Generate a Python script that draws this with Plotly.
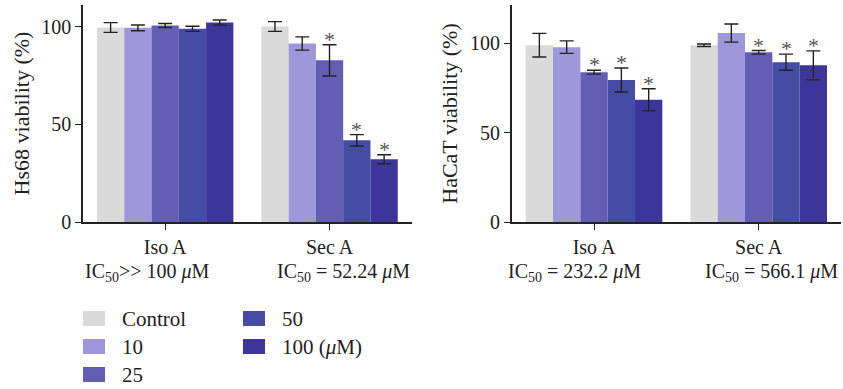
import plotly.graph_objects as go

categories = ["Iso A", "Sec A"]
series_names = ["Control", "10", "25", "50", "100 (<i>μ</i>M)"]
colors = ["#dadada", "#9e97d9", "#645db4", "#444ca3", "#3c369b"]

# Hs68 viability (%)
hs68_values = [[99.5, 100.0], [99.3, 91.3], [100.5, 82.7], [98.8, 41.8], [102.0, 32.1]]
hs68_errors = [[2.5, 2.5], [1.5, 3.4], [1.0, 8.0], [1.3, 2.9], [1.3, 2.3]]
hs68_stars = [[False, False], [False, False], [False, True], [False, True], [False, True]]

# HaCaT viability (%)
hacat_values = [[99.0, 99.0], [97.9, 105.8], [83.9, 95.0], [79.5, 89.5], [68.4, 87.7]]
hacat_errors = [[6.6, 0.7], [3.5, 5.1], [1.1, 1.0], [6.7, 4.5], [6.2, 8.1]]
hacat_stars = [[False, False], [False, False], [True, True], [True, True], [True, True]]

hs68_ic50 = ["IC<sub>50</sub>>> 100 <i>μ</i>M", "IC<sub>50</sub> = 52.24 <i>μ</i>M"]
hacat_ic50 = ["IC<sub>50</sub> = 232.2 <i>μ</i>M", "IC<sub>50</sub> = 566.1 <i>μ</i>M"]

y_ticks = [0, 50, 100]

FONT = "Liberation Serif, Times New Roman, serif"
TXT = "#222222"
W, H = 843, 389
BARGAP = 0.17
n = len(series_names)

fig = go.Figure()
annotations = []

panels = [
    ("x", "y", hs68_values, hs68_errors, hs68_stars, hs68_ic50, [147, 343]),
    ("x2", "y2", hacat_values, hacat_errors, hacat_stars, hacat_ic50, [574, 771.5]),
]

bw = (1 - BARGAP) / n
for xa, ya, vals, errs, stars, ic50, ic_px in panels:
    for i in range(n):
        fig.add_trace(go.Bar(
            x=categories, y=vals[i], name=series_names[i], xaxis=xa, yaxis=ya,
            marker=dict(color=colors[i], line=dict(width=0)),
            error_y=dict(type="data", array=errs[i], color="#222222", thickness=1.4, width=7),
            showlegend=False,
        ))
        for j in range(len(categories)):
            if stars[i][j]:
                annotations.append(dict(
                    x=j - (1 - BARGAP) / 2 + bw * (i + 0.5), y=vals[i][j] + errs[i][j],
                    xref=xa, yref=ya, text="*", showarrow=False, yanchor="bottom",
                    yshift=-9, font=dict(family=FONT, size=22, color="#555555")))
    for j, t in enumerate(ic50):
        annotations.append(dict(
            x=ic_px[j] / W, y=(H - 272) / H, xref="paper", yref="paper", text=t, showarrow=False,
            yanchor="middle", xanchor="center", font=dict(family=FONT, size=20, color=TXT)))

# Manual legend (column-major)
leg_pos = [(83, 311), (83, 339), (83, 367), (243, 311), (243, 339)]
shapes = []
for i, (px, py) in enumerate(leg_pos):
    shapes.append(dict(type="rect", xref="paper", yref="paper",
                       x0=px / W, x1=(px + 22) / W, y0=(H - py - 15) / H, y1=(H - py) / H,
                       fillcolor=colors[i], line=dict(width=0)))
    annotations.append(dict(x=(px + 37) / W, y=(H - py - 7.5) / H, xref="paper", yref="paper",
                            text=series_names[i], showarrow=False, xanchor="left", yanchor="middle",
                            font=dict(family=FONT, size=21, color=TXT)))

axis_common = dict(showline=True, linecolor="#222222", linewidth=1.5, showgrid=False, zeroline=False,
                   ticks="outside", ticklen=6, tickwidth=1.2, tickcolor="#222222", automargin=False,
                   tickfont=dict(family=FONT, size=20, color=TXT))

ydom = [(H - 222) / H, (H - 5) / H]
fig.update_layout(
    width=W, height=H, margin=dict(l=0, r=0, t=0, b=0, autoexpand=False),
    font=dict(family=FONT, color=TXT),
    paper_bgcolor="white", plot_bgcolor="white",
    barmode="group", bargap=BARGAP, bargroupgap=0,
    showlegend=False,
    xaxis=dict(domain=[83 / W, 411.7 / W], anchor="y", range=[-0.5, 1.5], **axis_common,
               ticklabelstandoff=0),
    yaxis=dict(domain=ydom, anchor="x", range=[0, 111], tickvals=y_ticks, **axis_common,
               title=dict(text="Hs68 viability (%)", font=dict(family=FONT, size=22, color=TXT), standoff=6)),
    xaxis2=dict(domain=[511.7 / W, 841 / W], anchor="y2", range=[-0.5, 1.5], **axis_common,
                ticklabelstandoff=0),
    yaxis2=dict(domain=ydom, anchor="x2", range=[0, 121.5], tickvals=y_ticks, **axis_common,
                title=dict(text="HaCaT viability (%)", font=dict(family=FONT, size=22, color=TXT), standoff=6)),
    annotations=annotations, shapes=shapes,
)

fig.write_html("out.html")
